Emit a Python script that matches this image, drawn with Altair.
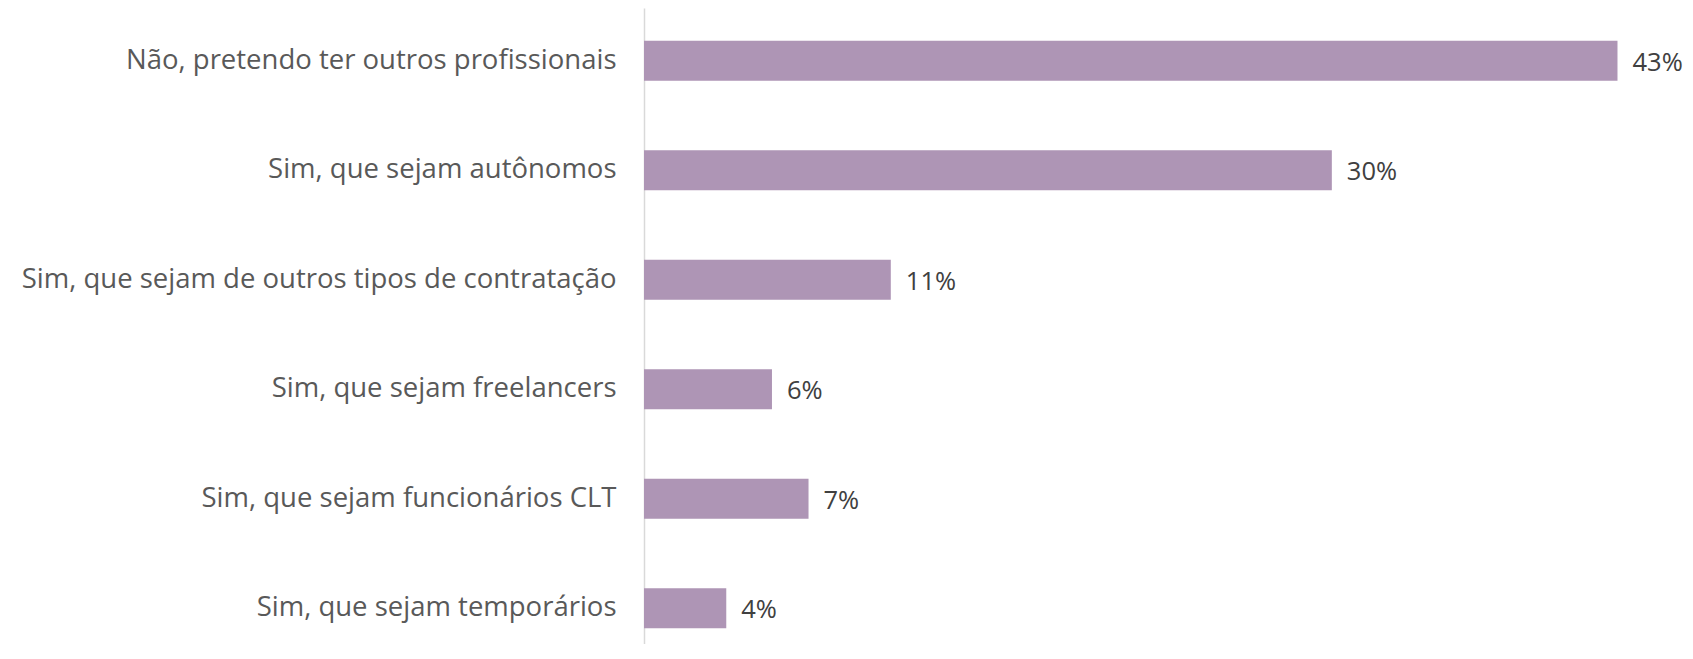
import altair as alt
import pandas as pd

categories = [
    "Não, pretendo ter outros profissionais",
    "Sim, que sejam autônomos",
    "Sim, que sejam de outros tipos de contratação",
    "Sim, que sejam freelancers",
    "Sim, que sejam funcionários CLT",
    "Sim, que sejam temporários",
]
values = [42.6, 30.1, 10.8, 5.6, 7.2, 3.6]
labels = ["43%", "30%", "11%", "6%", "7%", "4%"]

df = pd.DataFrame({"cat": categories, "val": values, "label": labels})

FONT = "Open Sans"
FS = 27.5

y_enc = alt.Y(
    "cat:N",
    sort=categories,
    title=None,
    scale=alt.Scale(paddingInner=0.635, paddingOuter=0.2215, align=0.674),
    axis=alt.Axis(
        ticks=False,
        labelPadding=28,
        labelFont=FONT,
        labelFontSize=FS,
        labelColor="#595959",
        labelLimit=700,
        domainColor="#d9d9d9",
        domainWidth=1.5,
        grid=False,
    ),
)
x_enc = alt.X(
    "val:Q",
    title=None,
    scale=alt.Scale(domain=[0, 43.06], nice=False, zero=True),
    axis=None,
)

bars = alt.Chart(df).mark_bar(color="#ae95b5").encode(x=x_enc, y=y_enc)
text = alt.Chart(df).mark_text(
    align="left", baseline="middle", dx=15, dy=2, font=FONT, fontSize=25.5, color="#404040"
).encode(x=x_enc, y=y_enc, text="label:N")

chart = (
    alt.layer(bars, text)
    .properties(
        width=984,
        height=636,
        background="white",
        autosize=alt.AutoSizeParams(type="none"),
        padding={"left": 636, "top": 0, "right": 57, "bottom": 0},
    )
    .configure_view(stroke=None)
)

chart.save("out.html", embed_options={"renderer": "svg", "actions": False})
